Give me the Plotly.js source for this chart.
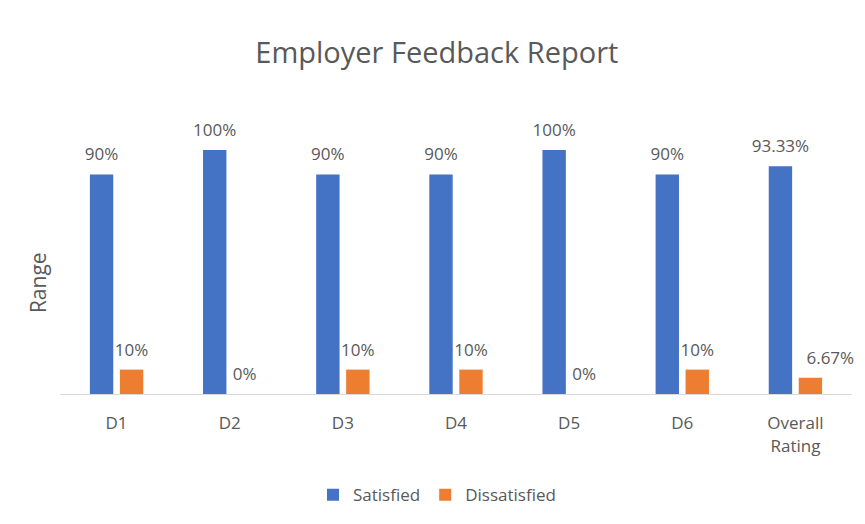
<!DOCTYPE html>
<html>
<head>
<meta charset="utf-8">
<script src="https://cdn.plot.ly/plotly-3.0.1.min.js"></script>
<style>html,body{margin:0;padding:0;background:#fff}#chart{width:865px;height:524px}</style>
</head>
<body>
<div id="chart"></div>
<script>
const categories = ["D1", "D2", "D3", "D4", "D5", "D6", "Overall<br>Rating"];
const satisfied = [90, 100, 90, 90, 100, 90, 93.33];
const dissatisfied = [10, 0, 10, 10, 0, 10, 6.67];
const seriesNames = ["Satisfied", "Dissatisfied"];

const font = "Open Sans, Noto Sans, sans-serif";
const gray = "#595959";
const nb = "\u00a0";
const label = (s) => "<span style='font-size:17px'>" + s + "</span><br>" + nb;

const satText = satisfied.map(v => label(v + "%"));
const disText = dissatisfied.map((v, i) =>
  label((i === dissatisfied.length - 1 ? nb.repeat(9) : "") + v + "%"));

const traces = [
  {type: "bar", name: seriesNames[0], x: categories, y: satisfied,
   marker: {color: "#4472C4"}, text: satText,
   textposition: "outside", cliponaxis: false, constraintext: "none",
   textfont: {family: font, size: 7, color: gray}, hoverinfo: "none"},
  {type: "bar", name: seriesNames[1], x: categories, y: dissatisfied,
   marker: {color: "#ED7D31"}, text: disText,
   textposition: "outside", cliponaxis: false, constraintext: "none",
   textfont: {family: font, size: 7, color: gray}, hoverinfo: "none"}
];

const layout = {
  width: 865, height: 524,
  margin: {l: 60, r: 13, t: 100, b: 130, autoexpand: false},
  paper_bgcolor: "#fff", plot_bgcolor: "#fff",
  font: {family: font, color: gray},
  title: {text: "Employer Feedback Report", x: 0.505, xanchor: "center", y: 0.9, yanchor: "middle",
          font: {family: font, size: 29, color: gray}},
  barmode: "group", bargap: 0.47, bargroupgap: 0.22,
  xaxis: {showline: true, linecolor: "#D9D9D9", linewidth: 1, automargin: false,
          ticks: "outside", ticklen: 14, tickcolor: "rgba(0,0,0,0)",
          tickfont: {family: font, size: 17, color: gray}, fixedrange: true},
  yaxis: {range: [0, 120.5], showticklabels: false, showgrid: false, zeroline: false,
          showline: false, ticks: "", fixedrange: true, automargin: false},
  showlegend: true,
  legend: {orientation: "h", x: 0.476, xanchor: "center", yref: "container", y: 0.055, yanchor: "middle",
           font: {family: font, size: 17, color: gray}, itemwidth: 30, traceorder: "normal"},
  annotations: [{text: "Range", xref: "paper", yref: "paper", x: -0.028, y: 0.38,
                 xanchor: "center", yanchor: "middle", textangle: -90, showarrow: false,
                 font: {family: font, size: 21, color: gray}}]
};

Plotly.newPlot("chart", traces, layout, {displayModeBar: false, staticPlot: true});
</script>
</body>
</html>
